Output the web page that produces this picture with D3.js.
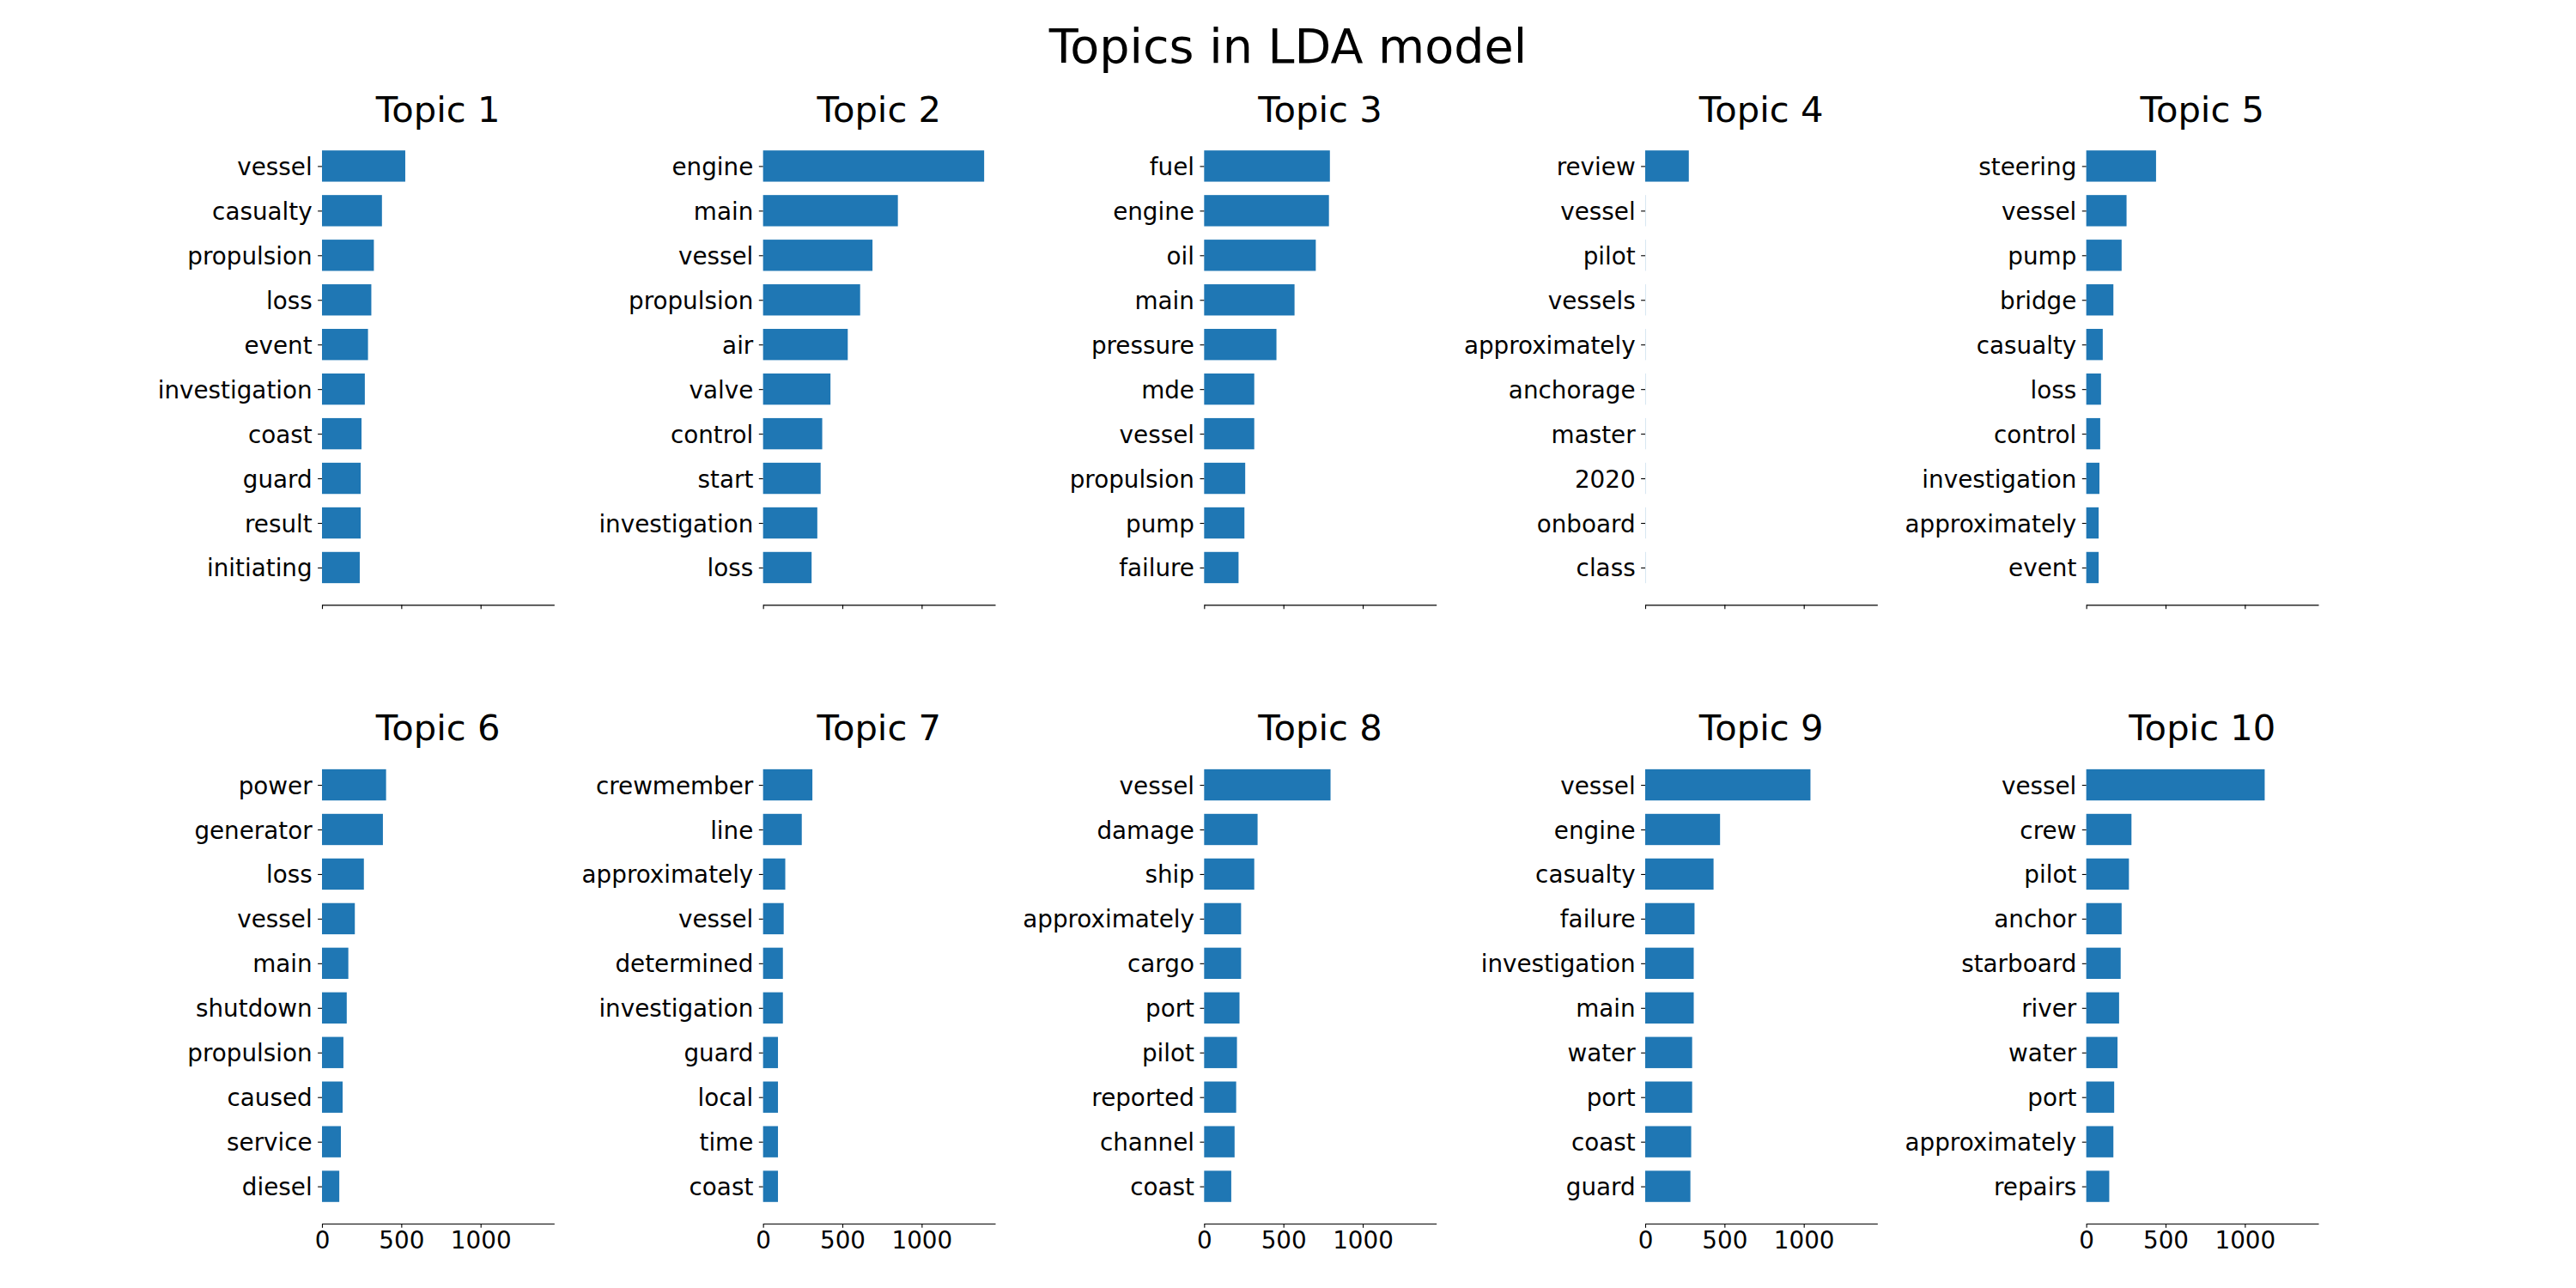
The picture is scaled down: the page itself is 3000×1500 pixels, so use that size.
<!DOCTYPE html>
<html>
<head>
<meta charset="utf-8">
<script src="https://cdn.jsdelivr.net/npm/d3@7"></script>
<style>
  html, body { margin: 0; padding: 0; background: #fff; }
  svg { display: block; font-family: "DejaVu Sans", sans-serif; }
</style>
</head>
<body>
<svg id="chart" width="3000" height="1500"></svg>
<script>
// ---- Data ----
const topicTitles = ["Topic 1","Topic 2","Topic 3","Topic 4","Topic 5","Topic 6","Topic 7","Topic 8","Topic 9","Topic 10"];

const topic1Words = ["vessel","casualty","propulsion","loss","event","investigation","coast","guard","result","initiating"];
const topic1Values = [525, 378, 327, 311, 290, 270, 249, 244, 244, 238];

const topic2Words = ["engine","main","vessel","propulsion","air","valve","control","start","investigation","loss"];
const topic2Values = [1394, 850, 690, 612, 534, 425, 373, 363, 342, 306];

const topic3Words = ["fuel","engine","oil","main","pressure","mde","vessel","propulsion","pump","failure"];
const topic3Values = [793, 787, 704, 570, 456, 316, 316, 259, 254, 217];

const topic4Words = ["review","vessel","pilot","vessels","approximately","anchorage","master","2020","onboard","class"];
const topic4Values = [275, 1, 1, 1, 1, 1, 1, 1, 1, 1];

const topic5Words = ["steering","vessel","pump","bridge","casualty","loss","control","investigation","approximately","event"];
const topic5Values = [440, 254, 223, 171, 104, 93, 88, 83, 78, 78];

const topic6Words = ["power","generator","loss","vessel","main","shutdown","propulsion","caused","service","diesel"];
const topic6Values = [404, 384, 264, 207, 166, 156, 135, 130, 119, 109];

const topic7Words = ["crewmember","line","approximately","vessel","determined","investigation","guard","local","time","coast"];
const topic7Values = [311, 244, 140, 130, 125, 125, 94, 94, 94, 94];

const topic8Words = ["vessel","damage","ship","approximately","cargo","port","pilot","reported","channel","coast"];
const topic8Values = [797, 337, 316, 233, 233, 223, 207, 202, 192, 171];

const topic9Words = ["vessel","engine","casualty","failure","investigation","main","water","port","coast","guard"];
const topic9Values = [1042, 472, 431, 311, 306, 306, 296, 296, 290, 285];

const topic10Words = ["vessel","crew","pilot","anchor","starboard","river","water","port","approximately","repairs"];
const topic10Values = [1125, 285, 269, 223, 217, 207, 197, 176, 171, 145];

const xTicks = [0, 500, 1000];
const mainTitle = "Topics in LDA model";

const topicWords = [topic1Words, topic2Words, topic3Words, topic4Words, topic5Words,
                    topic6Words, topic7Words, topic8Words, topic9Words, topic10Words];
const topicValues = [topic1Values, topic2Values, topic3Values, topic4Values, topic5Values,
                     topic6Values, topic7Values, topic8Values, topic9Values, topic10Values];

// ---- Layout ----
const W = 3000, H = 1500;
const svg = d3.select("#chart");
const color = "#1f77b4";
const left = 375, right = 2700, topF = 150, bottomF = 1425;
const ncol = 5, nrow = 2, wspace = 0.9, hspace = 0.3;
const pw = (right - left) / (ncol + (ncol - 1) * wspace);
const ph = (bottomF - topF) / (nrow + (nrow - 1) * hspace);

const allMax = d3.max(topicValues.flat());
const xMax = allMax * 1.05;
const barH = 0.7;
const n = 10;
const margin = 0.05 * ((n - 1 + barH / 2) - (-barH / 2));
const yLo = -barH / 2 - margin, yHi = n - 1 + barH / 2 + margin;

const tickLen = 4.86, tickPad = 4.86, lw = 1.11;

svg.append("text")
  .attr("x", W / 2).attr("y", 73)
  .attr("text-anchor", "middle")
  .attr("font-size", 55.6)
  .attr("fill", "#000")
  .text(mainTitle);

topicWords.forEach((words, k) => {
  const values = topicValues[k];
  const r = Math.floor(k / ncol), c = k % ncol;
  const x0 = left + c * pw * (1 + wspace);
  const y0 = topF + r * ph * (1 + hspace);
  const g = svg.append("g").attr("transform", `translate(${x0},${y0})`);

  const x = d3.scaleLinear().domain([0, xMax]).range([0, pw]);
  const y = d3.scaleLinear().domain([yLo, yHi]).range([0, ph]);

  g.selectAll("rect").data(values).join("rect")
    .attr("x", x(0))
    .attr("y", (d, i) => y(i - barH / 2))
    .attr("width", d => x(d) - x(0))
    .attr("height", (d, i) => y(i + barH / 2) - y(i - barH / 2))
    .attr("fill", color);

  // y axis
  const yAxis = d3.axisLeft(y)
    .tickValues(d3.range(n))
    .tickFormat(i => words[i])
    .tickSize(tickLen).tickPadding(6.5);
  const ya = g.append("g").call(yAxis);
  ya.select(".domain").remove();
  ya.selectAll(".tick line").attr("stroke", "#000").attr("stroke-width", lw);
  ya.selectAll(".tick text").attr("font-size", 27.8).attr("fill", "#000")
    .attr("dy", "0.36em")
    .attr("font-family", "DejaVu Sans, sans-serif");

  // x axis
  const xAxis = d3.axisBottom(x)
    .tickValues(xTicks)
    .tickFormat(r === nrow - 1 ? d3.format("d") : () => "")
    .tickSize(tickLen).tickPadding(tickPad).tickSizeOuter(0);
  const xa = g.append("g").attr("transform", `translate(0,${ph})`).call(xAxis);
  xa.select(".domain").attr("stroke", "#000").attr("stroke-width", lw);
  xa.selectAll(".tick line").attr("stroke", "#000").attr("stroke-width", lw);
  xa.selectAll(".tick text").attr("font-size", 27.8).attr("fill", "#000")
    .attr("font-family", "DejaVu Sans, sans-serif");

  g.append("text")
    .attr("x", pw / 2).attr("y", -8.33)
    .attr("text-anchor", "middle")
    .attr("font-size", 41.7)
    .attr("fill", "#000")
    .text(topicTitles[k]);
});
</script>
</body>
</html>
